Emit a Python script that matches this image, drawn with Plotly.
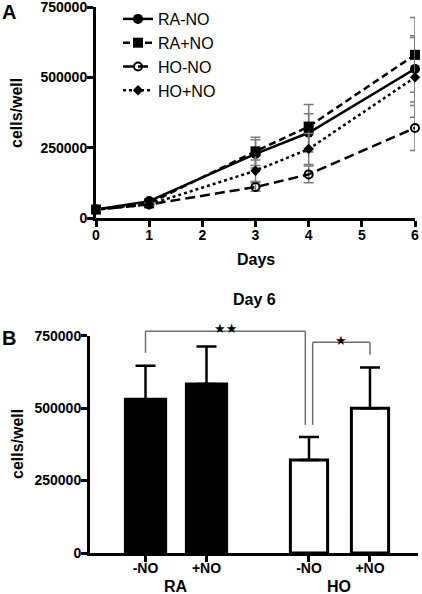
import plotly.graph_objects as go

# ---------------- Data ----------------
days = [0, 1, 3, 4, 6]
series_names = ["RA-NO", "RA+NO", "HO-NO", "HO+NO"]
ra_no_mean = [30000, 60000, 228000, 303000, 530000]
ra_no_sd = [5000, 5000, 50000, 68000, 118000]
ra_pno_mean = [30000, 52000, 237000, 325000, 580000]
ra_pno_sd = [5000, 5000, 50000, 78000, 133000]
ho_no_mean = [30000, 48000, 110000, 155000, 320000]
ho_no_sd = [3000, 4000, 15000, 30000, 80000]
ho_pno_mean = [30000, 48000, 168000, 245000, 500000]
ho_pno_sd = [3000, 4000, 38000, 55000, 142000]

bar_labels = ["-NO", "+NO", "-NO", "+NO"]
bar_groups = ["RA", "HO"]
bar_pos = [1.0, 2.0, 3.68, 4.68]
bar_values = [531000, 583000, 321000, 500000]
bar_err = [115000, 130000, 79000, 140000]

y_ticks = [0, 250000, 500000, 750000]
y_max = 750000

FONT = "Liberation Sans, Arial, sans-serif"
GRAY = "#7a7a7a"

fig = go.Figure()

styles = [
    dict(dash="solid", symbol="circle", size=10, lw=0),
    dict(dash="7px,4px", symbol="square", size=10, lw=0),
    dict(dash="10px,5px", symbol="circle-open", size=8, lw=2),
    dict(dash="3px,3px", symbol="diamond", size=8, lw=0),
]
means = [ra_no_mean, ra_pno_mean, ho_no_mean, ho_pno_mean]
sds = [ra_no_sd, ra_pno_sd, ho_no_sd, ho_pno_sd]

for i, name in enumerate(series_names):
    st = styles[i]
    fig.add_trace(go.Scatter(
        x=days, y=means[i], name=name, mode="lines+markers",
        xaxis="x", yaxis="y", cliponaxis=False, legendgroup=name,
        line=dict(color="black", width=2.5, dash=st["dash"]),
        marker=dict(symbol=st["symbol"], size=st["size"], color="black",
                    line=dict(color="black", width=st["lw"])),
        error_y=dict(type="data", array=sds[i], visible=True, color=GRAY,
                     thickness=1.5, width=5),
    ))

fig.add_trace(go.Bar(
    x=bar_pos, y=bar_values, xaxis="x2", yaxis="y2", showlegend=False,
    width=[0.66, 0.66, 0.61, 0.61],
    marker=dict(color=["black", "black", "white", "white"],
                line=dict(color="black", width=3)),
    error_y=dict(type="data", symmetric=False, array=bar_err,
                 arrayminus=[0, 0, 0, 0], color="black", thickness=2.5, width=10),
))

axis_common = dict(showline=True, linecolor="black", linewidth=3, ticks="outside",
                   ticklen=6, tickwidth=3, tickcolor="black", showgrid=False,
                   zeroline=False, automargin=False, ticklabeloverflow="allow",
                   tickfont=dict(family=FONT, size=14, color="black", weight="bold"))

fig.update_layout(
    width=422, height=594, margin=dict(l=0, r=0, t=0, b=0, autoexpand=False),
    paper_bgcolor="white", plot_bgcolor="white",
    xaxis=dict(domain=[96/422, 415/422], range=[0, 6], tickvals=list(range(7)),
               anchor="y", ticklabelstandoff=-4, **axis_common),
    yaxis=dict(domain=[1-218/594, 1-7/594], range=[0, y_max], tickvals=y_ticks,
               tickformat="d", anchor="x", ticklabelstandoff=-3, **axis_common),
    xaxis2=dict(domain=[90/422, 418/422], range=[0.09, 5.467], tickvals=bar_pos,
                ticktext=bar_labels, anchor="y2", ticklabelstandoff=-6, **axis_common),
    yaxis2=dict(domain=[1-553/594, 1-335.7/594], range=[0, y_max], tickvals=y_ticks,
                tickformat="d", anchor="x2", ticklabelstandoff=-3, **axis_common),
    legend=dict(x=118/422, y=1-2/594, xanchor="left", yanchor="top",
                font=dict(family=FONT, size=16, color="black"),
                bgcolor="rgba(0,0,0,0)", tracegroupgap=0, itemwidth=30),
    showlegend=True,
)

ann = []
def text(x, y, t, size, bold=True, angle=0, xref="paper", yref="paper", xanchor="center", fam=FONT):
    ann.append(dict(x=x, y=y, xref=xref, yref=yref, text=t, showarrow=False,
                    textangle=angle, xanchor=xanchor, yanchor="middle",
                    font=dict(family=fam, size=size, color="black",
                              weight="bold" if bold else "normal")))

text(9/422, 1-12/594, "A", 20)
text(9/422, 1-338/594, "B", 20)
text(17/422, 1-113/594, "cells/well", 16, angle=-90)
text(17/422, 1-444/594, "cells/well", 16, angle=-90)
text(256/422, 1-259/594, "Days", 16)
text(254/422, 1-299/594, "Day 6", 16)
text((bar_pos[0]+bar_pos[1])/2, 1-586/594, bar_groups[0], 16, xref="x2")
text((bar_pos[2]+bar_pos[3])/2, 1-586/594, bar_groups[1], 16, xref="x2")

# significance brackets
br_color = "#6e6e6e"
shapes = []
def bracket(x0, x1, ytop, yl, yr):
    pts = [(x0, yl), (x0, ytop), (x1, ytop), (x1, yr)]
    for (a, b), (c, d) in zip(pts[:-1], pts[1:]):
        shapes.append(dict(type="line", xref="x2", yref="y2 domain",
                           x0=a, y0=b / y_max, x1=c, y1=d / y_max,
                           line=dict(color=br_color, width=1.5)))

bracket(bar_pos[0], bar_pos[2] - 0.06, 765000, 691000, 442000)
bracket(bar_pos[2] + 0.06, bar_pos[3], 727000, 442000, 684000)
for xs, ys, t in [((bar_pos[0] + bar_pos[2] - 0.06) / 2, 806000, "★★"),
                  ((bar_pos[2] + 0.06 + bar_pos[3]) / 2, 766000, "★")]:
    ann.append(dict(x=xs, y=ys / y_max, xref="x2", yref="y2 domain", text=t,
                    showarrow=False, font=dict(family="DejaVu Sans", size=13, color="black")))

fig.update_layout(annotations=ann, shapes=shapes)
fig.write_html("out.html", config={"displayModeBar": False},
               post_script="document.body.style.margin='0';document.body.style.overflow='hidden';")
